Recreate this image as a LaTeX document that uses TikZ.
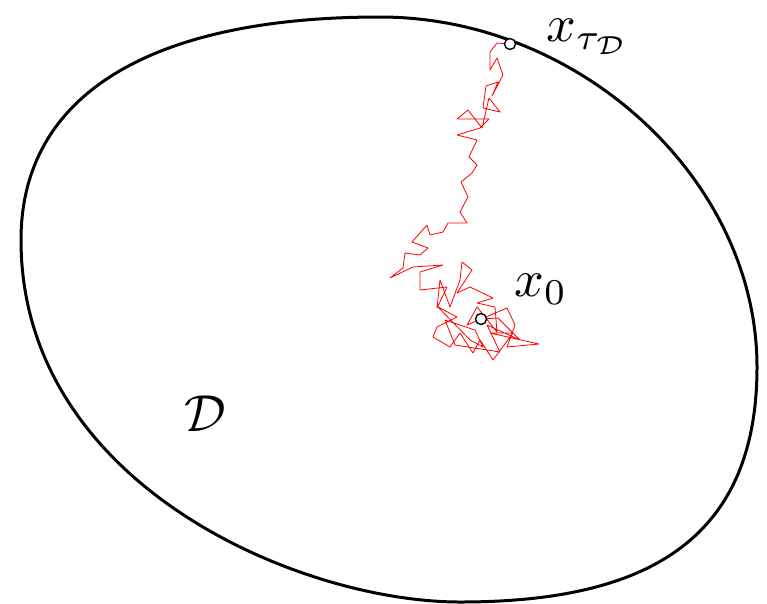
\documentclass[tikz,border=0pt]{standalone}
\begin{document}
\begin{tikzpicture}[x=1pt,y=-1pt,
  boundary/.style={line width=3pt},
  walk/.style={red,line width=0.8pt,line join=round},
  pt/.style={circle,draw=black,fill=white,line width=1.4pt,inner sep=0pt,minimum size=11pt},
  lbl/.style={inner sep=0pt,scale=5.2}]
\useasboundingbox (0,0) rectangle (767,603);
\draw[boundary] (21,240) .. controls (21,95) and (150,17) .. (380,17)
  .. controls (580,17) and (757,180) .. (757,367)
  .. controls (757,545) and (640,602) .. (460,602)
  .. controls (300,602) and (21,485) .. (21,240) -- cycle;
\draw[walk] (510,44) -- (497,43) -- (490,52) -- (490,70) -- (497,58) -- (503,75) -- (492,96) -- (498,82) -- (486,86) -- (483,108) -- (500,112) -- (489,98) -- (482,128) -- (468,110) -- (457,119) -- (489,119) -- (480,128) -- (457,135) -- (477,140) -- (469,157) -- (477,165) -- (472,173) -- (461,182) -- (468,197) -- (460,212) -- (467,223) -- (448,223) -- (443,232) -- (430,235) -- (427,225) -- (412,242) -- (428,248) -- (420,255) -- (405,253) -- (403,268) -- (390,278) -- (413,267) -- (443,265) -- (420,272) -- (420,290) -- (447,287) -- (437,308) -- (440,280) -- (450,307) -- (460,280) -- (462,262) -- (472,270) -- (457,293) -- (470,287) -- (493,298) -- (477,303) -- (495,307) -- (497,332) -- (477,307) -- (467,325) -- (507,308) -- (515,325) -- (507,347) -- (539,344) -- (490,333) -- (513,333) -- (493,360) -- (480,340) -- (473,353) -- (460,333) -- (450,347) -- (433,337) -- (437,327) -- (457,317) -- (438,307) -- (470,340) -- (483,347) -- (475,330) -- (445,320) -- (455,345) -- (500,352) -- (487,325) -- (520,340) -- (498,318) -- (481,319);
\node[pt] (x0) at (481,319) {};
\node[pt] (xt) at (510,44) {};
\node[lbl] (lx0) at (541,289) {$x_0$};
\node[lbl] (lxt) at (588,37) {$x_{\tau_{\mathcal D}}$};
\node[lbl] (lD) at (205,414) {$\mathcal D$};
\end{tikzpicture}
\end{document}
